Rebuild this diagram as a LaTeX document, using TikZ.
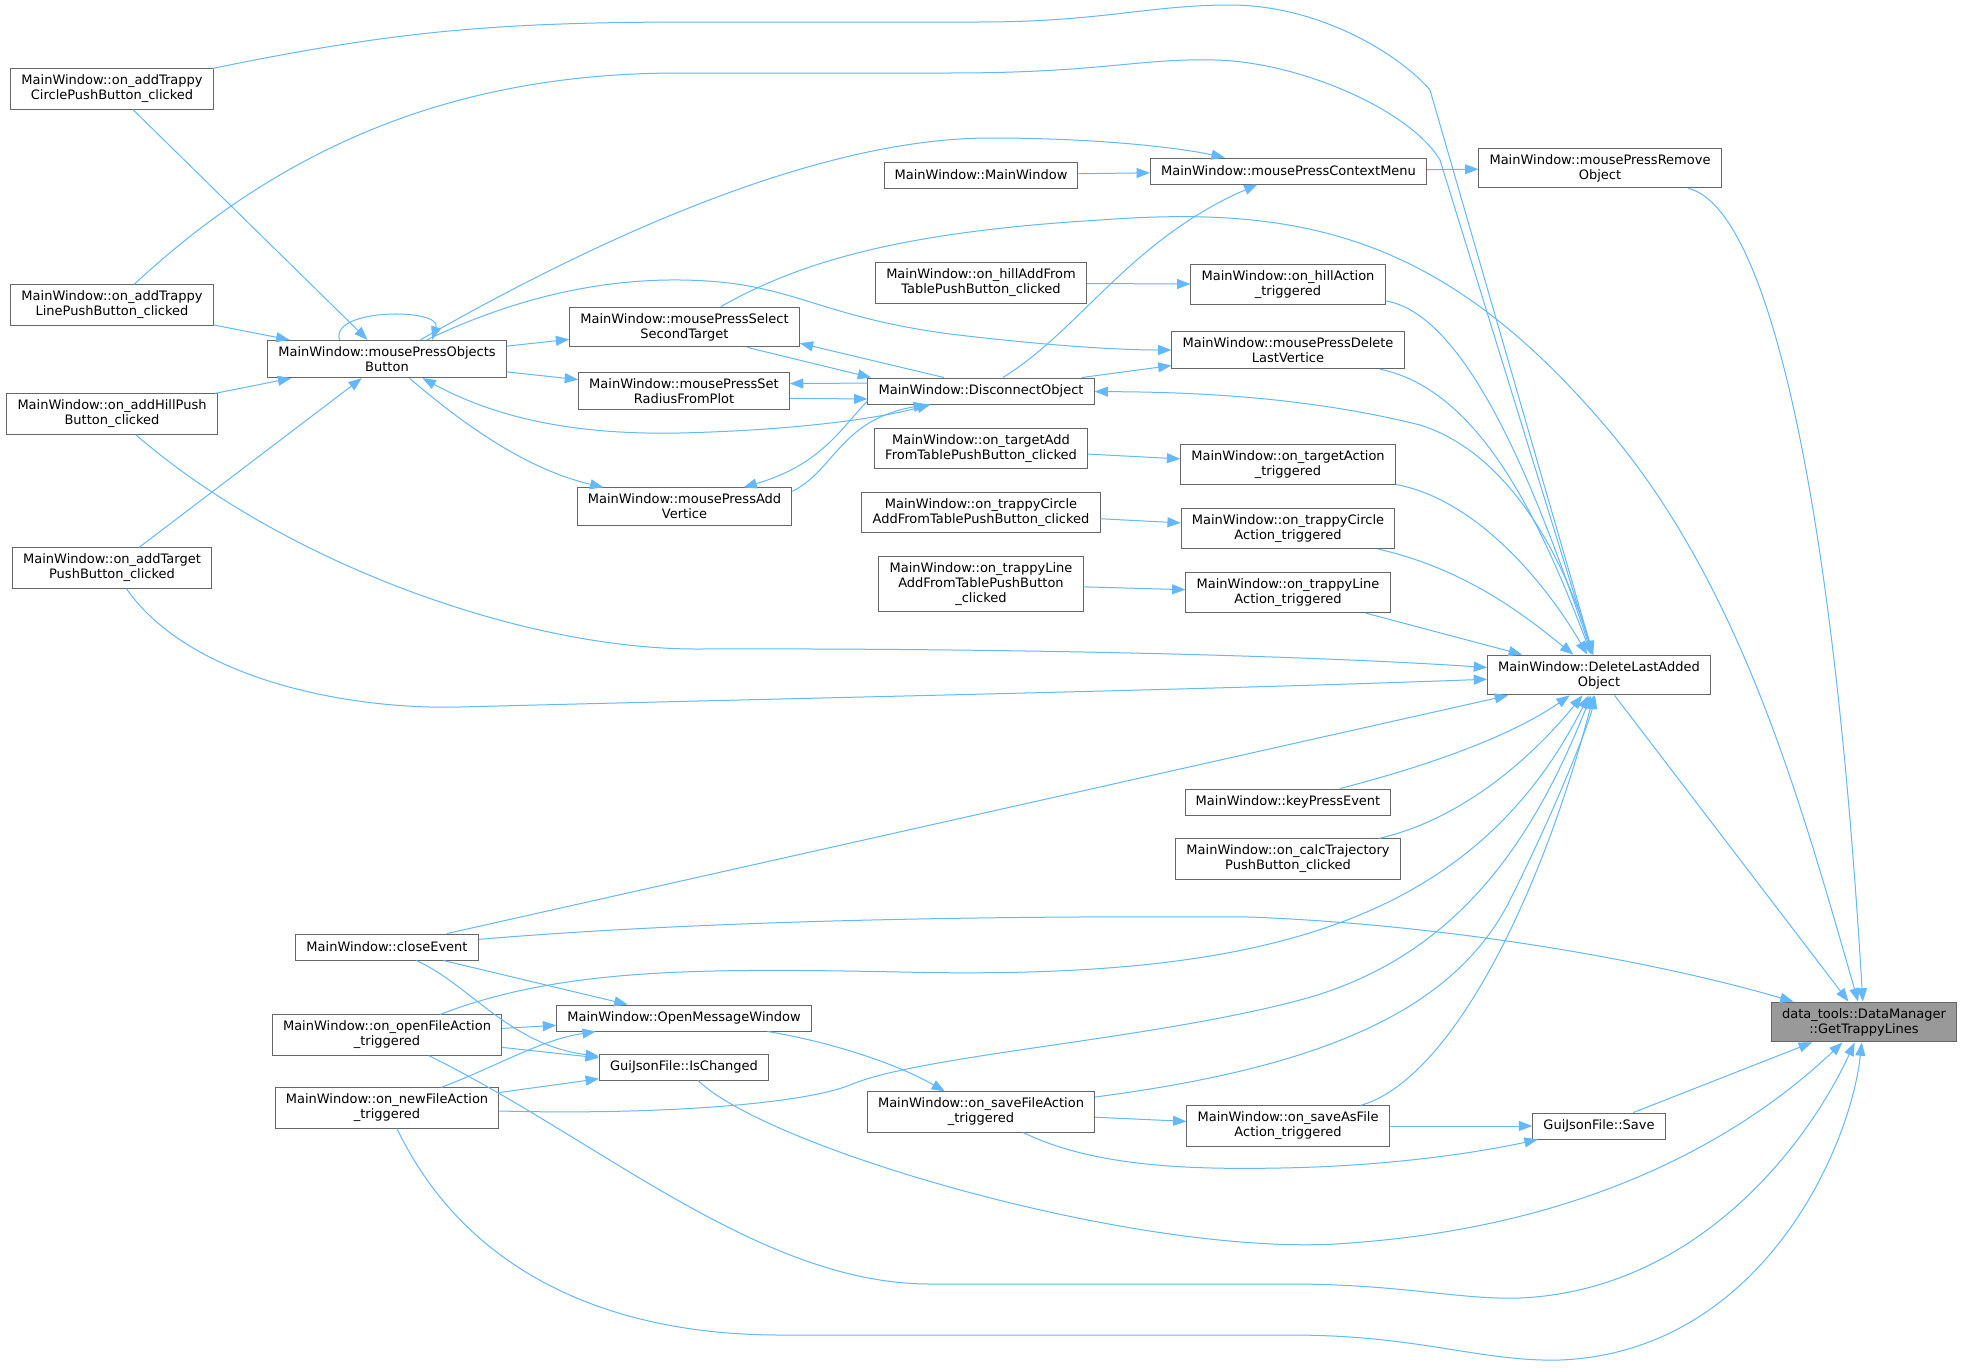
\documentclass[tikz,border=0pt]{standalone}
\usepackage{fontspec}
\setmainfont{DejaVu Sans}
\usetikzlibrary{arrows.meta}
\definecolor{CallBlue}{HTML}{63B8FF}
\definecolor{BoxGray}{HTML}{666666}
\definecolor{FocusGray}{HTML}{999999}
\tikzset{
  FuncStyle/.style = {rectangle, draw=BoxGray, fill=white, line width=0.75pt, align=center,
                      font=\fontsize{9.75}{11.25}\selectfont, inner xsep=8pt, inner ysep=4.6pt,
                      minimum height=19.5pt},
  FocusStyle/.style = {FuncStyle, fill=FocusGray},
  CallStyle/.style = {draw=CallBlue, line width=0.75pt, -{Triangle[length=10pt,width=7.5pt]}},
  BothStyle/.style = {CallStyle, {Triangle[length=10pt,width=7.5pt]}-{Triangle[length=10pt,width=7.5pt]}} }

\begin{document}
\begin{tikzpicture}[x=0.75pt,y=-0.75pt]
  \useasboundingbox[fill=white] (0,0) rectangle (1963,1367);
  \node[FuncStyle] (addCircle) at (112,89) {MainWindow::on\_addTrappy\\CirclePushButton\_clicked};
  \node[FuncStyle] (addLine) at (112,305) {MainWindow::on\_addTrappy\\LinePushButton\_clicked};
  \node[FuncStyle] (addHill) at (112,414) {MainWindow::on\_addHillPush\\Button\_clicked};
  \node[FuncStyle] (addTarget) at (112,568) {MainWindow::on\_addTarget\\PushButton\_clicked};
  \node[FuncStyle] (objBtn) at (387,359) {MainWindow::mousePressObjects\\Button};
  \node[FuncStyle] (secondTgt) at (684.5,327) {MainWindow::mousePressSelect\\SecondTarget};
  \node[FuncStyle] (setRadius) at (684,391) {MainWindow::mousePressSet\\RadiusFromPlot};
  \node[FuncStyle] (addVertice) at (684.5,506.5) {MainWindow::mousePressAdd\\Vertice};
  \node[FuncStyle] (mainWin) at (981,175) {MainWindow::MainWindow};
  \node[FuncStyle] (ctxMenu) at (1288.5,171) {MainWindow::mousePressContextMenu};
  \node[FuncStyle] (removeObj) at (1600,168) {MainWindow::mousePressRemove\\Object};
  \node[FuncStyle] (hillAdd) at (981,283) {MainWindow::on\_hillAddFrom\\TablePushButton\_clicked};
  \node[FuncStyle] (hillAct) at (1288,284.5) {MainWindow::on\_hillAction\\\_triggered};
  \node[FuncStyle] (delVertice) at (1288,350) {MainWindow::mousePressDelete\\LastVertice};
  \node[FuncStyle] (disconnect) at (981,391) {MainWindow::DisconnectObject};
  \node[FuncStyle] (targetAdd) at (981,448.5) {MainWindow::on\_targetAdd\\FromTablePushButton\_clicked};
  \node[FuncStyle] (targetAct) at (1288,464.5) {MainWindow::on\_targetAction\\\_triggered};
  \node[FuncStyle] (circleAdd) at (981,512.5) {MainWindow::on\_trappyCircle\\AddFromTablePushButton\_clicked};
  \node[FuncStyle] (circleAct) at (1288,528.5) {MainWindow::on\_trappyCircle\\Action\_triggered};
  \node[FuncStyle] (lineAdd) at (981,584) {MainWindow::on\_trappyLine\\AddFromTablePushButton\\\_clicked};
  \node[FuncStyle] (lineAct) at (1288,592.5) {MainWindow::on\_trappyLine\\Action\_triggered};
  \node[FuncStyle] (delLast) at (1599,675) {MainWindow::DeleteLastAdded\\Object};
  \node[FuncStyle] (keyPress) at (1288,802) {MainWindow::keyPressEvent};
  \node[FuncStyle] (calcTraj) at (1288,859) {MainWindow::on\_calcTrajectory\\PushButton\_clicked};
  \node[FocusStyle] (trappyLines) at (1864,1022) {data\_tools::DataManager\\::GetTrappyLines};
  \node[FuncStyle] (closeEv) at (387,947) {MainWindow::closeEvent};
  \node[FuncStyle] (openFile) at (387,1035) {MainWindow::on\_openFileAction\\\_triggered};
  \node[FuncStyle] (newFile) at (387,1108) {MainWindow::on\_newFileAction\\\_triggered};
  \node[FuncStyle] (openMsg) at (684,1018) {MainWindow::OpenMessageWindow};
  \node[FuncStyle] (isChanged) at (684,1067) {GuiJsonFile::IsChanged};
  \node[FuncStyle] (saveFile) at (981,1112) {MainWindow::on\_saveFileAction\\\_triggered};
  \node[FuncStyle] (saveAs) at (1288,1126) {MainWindow::on\_saveAsFile\\Action\_triggered};
  \node[FuncStyle] (jsonSave) at (1599,1126) {GuiJsonFile::Save};

  \draw[CallStyle] (mainWin) -- (ctxMenu);
  \draw[CallStyle] (ctxMenu) -- (removeObj);
  \draw[CallStyle] (removeObj) .. controls (1760,205) and (1830,450) .. (trappyLines);
  \draw[CallStyle] (delLast) -- (trappyLines);
  \draw[CallStyle] (secondTgt) .. controls (800,262) and (900,232) .. (1100,220)
    .. controls (1300,205) and (1440,235) .. (1600,420) .. controls (1740,580) and (1800,800) .. (trappyLines);
  \draw[CallStyle] (closeEv) .. controls (650,925) and (900,915) .. (1250,917)
    .. controls (1450,925) and (1650,960) .. (trappyLines);
  \draw[CallStyle] (jsonSave) -- (trappyLines);
  \draw[CallStyle] (isChanged) .. controls (770,1150) and (1150,1260) .. (1350,1243)
    .. controls (1600,1225) and (1750,1130) .. (trappyLines);
  \draw[CallStyle] (openFile) .. controls (600,1140) and (760,1284) .. (930,1284) -- (1290,1284)
    .. controls (1400,1284) and (1460,1300) .. (1520,1298) .. controls (1700,1290) and (1810,1140) .. (trappyLines);
  \draw[CallStyle] (newFile) .. controls (470,1280) and (620,1335) .. (780,1335) -- (1290,1335)
    .. controls (1420,1335) and (1480,1362) .. (1560,1360) .. controls (1760,1352) and (1850,1150) .. (trappyLines);

  \draw[CallStyle] (hillAct) .. controls (1470,315) and (1540,500) .. (delLast);
  \draw[CallStyle] (delVertice) .. controls (1480,390) and (1540,520) .. (delLast);
  \draw[CallStyle] (targetAct) .. controls (1480,500) and (1550,590) .. (delLast);
  \draw[CallStyle] (circleAct) .. controls (1470,570) and (1530,620) .. (delLast);
  \draw[CallStyle] (lineAct) -- (delLast);
  \draw[CallStyle] (addCircle) .. controls (400,30) and (500,22) .. (700,22) -- (980,22)
    .. controls (1100,22) and (1150,5) .. (1230,5) .. controls (1320,5) and (1400,55) .. (1430,90) -- (delLast);
  \draw[CallStyle] (addLine) .. controls (300,130) and (480,73) .. (680,73) -- (950,73)
    .. controls (1100,73) and (1140,58) .. (1215,60) .. controls (1300,62) and (1410,110) .. (1440,160) -- (delLast);
  \draw[CallStyle] (addHill) .. controls (280,560) and (520,650) .. (700,649)
    .. controls (1000,648) and (1300,655) .. (delLast);
  \draw[CallStyle] (addTarget) .. controls (190,680) and (350,710) .. (460,707)
    .. controls (800,698) and (1200,690) .. (delLast);
  \draw[CallStyle] (closeEv) -- (delLast);
  \draw[CallStyle] (openFile) .. controls (560,968) and (700,968) .. (900,972)
    .. controls (1250,980) and (1470,930) .. (delLast);
  \draw[CallStyle] (newFile) .. controls (650,1115) and (800,1105) .. (850,1085)
    .. controls (920,1055) and (1150,1040) .. (1300,1000) .. controls (1450,960) and (1530,850) .. (delLast);
  \draw[CallStyle] (saveFile) .. controls (1300,1070) and (1450,1020) .. (1510,900)
    .. controls (1560,800) and (1590,720) .. (delLast);
  \draw[CallStyle] (saveAs) .. controls (1450,1080) and (1540,900) .. (delLast);
  \draw[CallStyle] (keyPress) .. controls (1450,760) and (1520,730) .. (delLast);
  \draw[CallStyle] (calcTraj) .. controls (1460,820) and (1530,760) .. (delLast);
  \draw[CallStyle] (delLast) .. controls (1560,540) and (1500,450) .. (1420,425)
    .. controls (1300,395) and (1180,392) .. (disconnect);

  \draw[CallStyle] (addCircle) -- (objBtn);
  \draw[CallStyle] (addLine) -- (objBtn);
  \draw[CallStyle] (addHill) -- (objBtn);
  \draw[CallStyle] (addTarget) -- (objBtn);
  \draw[CallStyle] (objBtn.158) .. controls +(-10,-32) and +(10,-32) .. (objBtn.23);
  \draw[CallStyle] (objBtn) -- (secondTgt);
  \draw[CallStyle] (objBtn) -- (setRadius);
  \draw[CallStyle] (objBtn) .. controls (470,430) and (530,470) .. (addVertice);
  \draw[BothStyle] (objBtn) .. controls (500,420) and (580,435) .. (680,433)
    .. controls (800,430) and (880,418) .. (disconnect);
  \draw[CallStyle] (objBtn) .. controls (560,260) and (800,138) .. (990,138)
    .. controls (1100,138) and (1180,148) .. (ctxMenu);
  \draw[CallStyle] (objBtn) .. controls (510,300) and (610,272) .. (720,282)
    .. controls (800,290) and (830,318) .. (950,334) .. controls (1050,346) and (1120,350) .. (delVertice);

  \draw[CallStyle] (secondTgt.-18) -- (disconnect.173);
  \draw[CallStyle] (disconnect.160) -- (secondTgt.-8);
  \draw[CallStyle] (disconnect.176) -- (setRadius.4);
  \draw[CallStyle] (setRadius.-4) -- (disconnect.184);
  \draw[CallStyle] (disconnect.185) .. controls (840,430) and (820,465) .. (addVertice.18);
  \draw[CallStyle] (addVertice.8) .. controls (835,470) and (840,420) .. (disconnect.194);
  \draw[CallStyle] (disconnect) .. controls (1080,330) and (1130,240) .. (ctxMenu);
  \draw[CallStyle] (disconnect) -- (delVertice);

  \draw[CallStyle] (hillAdd) -- (hillAct);
  \draw[CallStyle] (targetAdd) -- (targetAct);
  \draw[CallStyle] (circleAdd) -- (circleAct);
  \draw[CallStyle] (lineAdd) -- (lineAct);

  \draw[CallStyle] (closeEv) -- (openMsg);
  \draw[CallStyle] (closeEv) .. controls (470,985) and (510,1045) .. (isChanged);
  \draw[CallStyle] (openFile) -- (openMsg);
  \draw[CallStyle] (openFile) -- (isChanged);
  \draw[CallStyle] (newFile) .. controls (500,1065) and (540,1040) .. (openMsg);
  \draw[CallStyle] (newFile) -- (isChanged);
  \draw[CallStyle] (openMsg) .. controls (820,1040) and (890,1060) .. (saveFile);
  \draw[CallStyle] (saveFile) -- (saveAs);
  \draw[CallStyle] (saveAs) -- (jsonSave);
  \draw[CallStyle] (saveFile) .. controls (1090,1165) and (1180,1170) .. (1280,1168)
    .. controls (1400,1166) and (1490,1150) .. (jsonSave);
\end{tikzpicture}
\end{document}
